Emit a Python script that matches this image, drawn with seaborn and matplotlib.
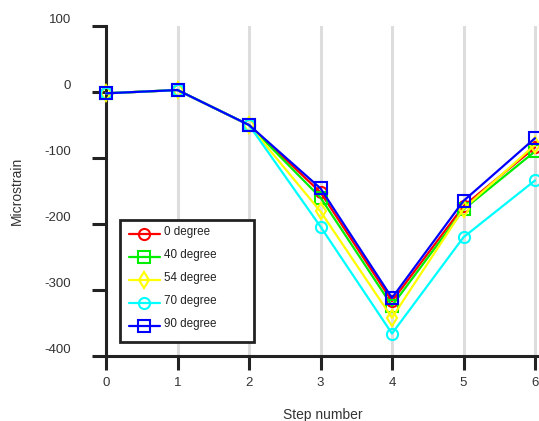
import matplotlib
matplotlib.use("Agg")
import matplotlib.pyplot as plt
import seaborn as sns
import pandas as pd

steps = [0, 1, 2, 3, 4, 5, 6]
series_names = ["0 degree", "40 degree", "54 degree", "70 degree", "90 degree"]
strain_0 = [-2, 3, -50, -152, -317, -173, -84]
strain_40 = [-2, 3, -50, -160, -324, -178, -90]
strain_54 = [-2, 3, -50, -181, -342, -177, -80]
strain_70 = [-2, 3, -50, -204, -366, -220, -134]
strain_90 = [-2, 3, -50, -146, -312, -165, -70]
yticks = [100, 0, -100, -200, -300, -400]

colors = ["#ff0000", "#00ee00", "#ffff00", "#00ffff", "#0000ff"]
markers = ["o", "s", "d", "o", "s"]

frames = []
for name, vals in zip(series_names,
                      [strain_0, strain_40, strain_54, strain_70, strain_90]):
    frames.append(pd.DataFrame({"Step": steps, "Microstrain": vals, "Angle": name}))
df = pd.concat(frames, ignore_index=True)

sns.set_style("white")
plt.rcParams["font.family"] = ["Liberation Sans", "DejaVu Sans"]

fig = plt.figure(figsize=(5.39, 4.21), dpi=100)
ax = fig.add_axes([106 / 539, 65 / 421, 433 / 539, 330 / 421])

# vertical guide lines at each step
for s in steps:
    ax.axvline(s, color="#dddddd", lw=2.2, zorder=0)

sns.lineplot(
    data=df, x="Step", y="Microstrain", hue="Angle", style="Angle",
    hue_order=series_names, style_order=series_names,
    palette=dict(zip(series_names, colors)),
    markers=dict(zip(series_names, markers)),
    dashes=False, lw=1.6, markersize=8, markeredgewidth=1.5,
    ax=ax, clip_on=False, zorder=3,
)
for line in ax.get_lines():
    line.set_markerfacecolor("none")
    line.set_markeredgecolor(line.get_color())

ax.set_xlim(0, 433 / 71.5)
ax.set_ylim(-400, 100)
ax.set_xticks(steps)
ax.set_yticks(yticks)
ax.set_yticklabels([str(v) for v in yticks])
for lab in ax.get_yticklabels():
    lab.set_verticalalignment("bottom")

for side in ["top", "right"]:
    ax.spines[side].set_visible(False)
for side in ["left", "bottom"]:
    ax.spines[side].set_color("#222222")
    ax.spines[side].set_linewidth(2.2)
ax.tick_params(axis="both", direction="out", length=10, width=2.2,
               bottom=True, left=True,
               color="#222222", labelcolor="#333333", labelsize=9.5)
ax.tick_params(axis="y", pad=15)
ax.tick_params(axis="x", pad=5)

ax.set_xlabel("Step number", fontsize=10, color="#333333", labelpad=14)
ax.set_ylabel("Microstrain", fontsize=10, color="#333333", labelpad=15)

leg = ax.legend(
    loc="lower left", bbox_to_anchor=(0.032, 0.042, 0.310, 0.376),
    mode="expand", borderaxespad=0,
    fontsize=8.4, frameon=True, fancybox=False, handlelength=2.7,
    labelspacing=0.95, borderpad=0.75, handletextpad=0.3, title=None,
)
leg.get_frame().set_edgecolor("#222222")
leg.get_frame().set_linewidth(2)
leg.get_frame().set_alpha(1)
for h in leg.legend_handles:
    h.set_markerfacecolor("none")
    h.set_markeredgecolor(h.get_color())
# labels sit a little above their sample lines
for t in leg.get_texts():
    t.set_y(3)
    t.set_color("#222222")

fig.savefig("out.png", dpi=100)
